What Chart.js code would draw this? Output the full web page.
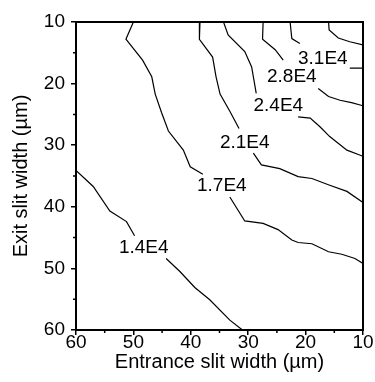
<!DOCTYPE html>
<html>
<head>
<meta charset="utf-8">
<script src="https://cdn.jsdelivr.net/npm/chart.js@4"></script>
<style>
  html, body { margin: 0; padding: 0; background: #fff; }
  #wrap { width: 375px; height: 382px; }
</style>
</head>
<body>
<div id="wrap"><canvas id="contourChart" width="375" height="382"></canvas></div>
<script>
    // contour lines, x = entrance slit width, y = exit slit width (um); null = gap for label
    const c14X = [60, 57.0, 54.1, 51.2, 49.8, null, 44.3, 41.9, 39.3, 36.7, 33.2, 31.0];
    const c14Y = [34.1, 36.7, 40.7, 42.4, 44.7, null, 48.4, 50.5, 53.1, 55.1, 58.4, 60];

    const c17X = [50.0, 51.3, 48.4, 46.8, 46.2, 45.1, 43.9, 41.3, 40.1, 37.9, null, 33.2, 30.6, 27.4, 24.8, 22.4, 21.3, 18.9, 16.0, 13.7, 11.4, 10];
    const c17Y = [10, 12.8, 16.2, 18.9, 21.7, 24.7, 27.7, 30.8, 33.5, 34.7, null, 38.4, 42.3, 42.7, 43.7, 45.4, 45.8, 46.0, 47.3, 47.7, 48.4, 49.2];

    const c21X = [38.4, 38.5, 36.2, 35.6, 34.9, 33.2, 31.6, null, 29.1, 27.7, 24.5, 21.3, 18.9, 15.8, 12.8, 10];
    const c21Y = [10, 12.8, 15.7, 18.9, 21.7, 24.5, 27.3, null, 31.3, 33.2, 33.8, 35.1, 35.4, 36.5, 37.5, 39.3];

    const c24X = [34.3, 33.5, 30.6, 29.4, 28.6, null, 21.3, 19.2, 17.5, 15.8, 12.8, 10];
    const c24Y = [10, 12.1, 14.8, 17.3, 21.6, null, 25.4, 25.6, 27.0, 28.6, 30.8, 31.8];

    const c28X = [27.4, 27.5, 25.3, 23.9, null, 17.8, 16.0, 14.0, 12.0, 10];
    const c28Y = [10, 12.8, 14.5, 16.2, null, 20.8, 22.1, 22.7, 23.1, 23.6];

    const c31X = [22.7, 22.4, 21.0, null, 12.3, 10];
    const c31Y = [10, 12.7, 13.5, null, 17.5, 17.5];

    const c34X = [16.0, 15.9, 14.3, 12.3, 10.0];
    const c34Y = [10, 11.3, 12.6, 13.2, 13.7];

    const contourLabels = ['1.4E4', '1.7E4', '2.1E4', '2.4E4', '2.8E4', '3.1E4'];
    const labelX = [48.2, 34.6, 30.6, 24.75, 22.4, 17.0];
    const labelY = [46.6, 36.6, 29.6, 23.6, 18.9, 16.0];

    const tickValues = [10, 20, 30, 40, 50, 60];
    const minorValues = [15, 25, 35, 45, 55];

    const FONT = '"Liberation Sans", Arial, Helvetica, sans-serif';

    function toPoints(xs, ys) {
        return xs.map((x, i) => ({ x: x, y: ys[i] }));
    }

    function lineSet(xs, ys) {
        return {
            data: toPoints(xs, ys),
            showLine: true,
            borderColor: '#000',
            borderWidth: 1.2,
            pointRadius: 0,
            tension: 0,
            spanGaps: false,
            fill: false
        };
    }

    const contourLabelPlugin = {
        id: 'contourLabels',
        afterDatasetsDraw(chart) {
            const { ctx, scales: { x, y } } = chart;
            ctx.save();
            ctx.font = '19px ' + FONT;
            ctx.fillStyle = '#000';
            ctx.textAlign = 'center';
            ctx.textBaseline = 'middle';
            contourLabels.forEach((txt, i) => {
                ctx.fillText(txt, x.getPixelForValue(labelX[i]), y.getPixelForValue(labelY[i]));
            });
            ctx.restore();
        }
    };

    const frameAndMinorTicks = {
        id: 'frameAndMinorTicks',
        afterDraw(chart) {
            const { ctx, chartArea: a, scales: { x, y } } = chart;
            ctx.save();
            ctx.strokeStyle = '#000';
            ctx.lineWidth = 2;
            ctx.strokeRect(a.left, a.top, a.right - a.left, a.bottom - a.top);
            ctx.lineWidth = 1.5;
            ctx.beginPath();
            minorValues.forEach(v => {
                const px = x.getPixelForValue(v);
                ctx.moveTo(px, a.bottom);
                ctx.lineTo(px, a.bottom + 3);
                const py = y.getPixelForValue(v);
                ctx.moveTo(a.left, py);
                ctx.lineTo(a.left - 3, py);
            });
            ctx.stroke();
            ctx.restore();
        }
    };

    const ctxContour = document.getElementById('contourChart').getContext('2d');
    const contourChart = new Chart(ctxContour, {
        type: 'scatter',
        data: {
            datasets: [
                lineSet(c14X, c14Y),
                lineSet(c17X, c17Y),
                lineSet(c21X, c21Y),
                lineSet(c24X, c24Y),
                lineSet(c28X, c28Y),
                lineSet(c31X, c31Y),
                lineSet(c34X, c34Y)
            ]
        },
        options: {
            responsive: false,
            animation: false,
            devicePixelRatio: 1,
            layout: { padding: { top: 22, right: 12, left: 0, bottom: 0 } },
            plugins: {
                legend: { display: false },
                tooltip: { enabled: false }
            },
            scales: {
                x: {
                    type: 'linear',
                    reverse: true,
                    min: 10,
                    max: 60,
                    afterFit: s => { s.height = 52; },
                    afterBuildTicks: s => { s.ticks = tickValues.map(v => ({ value: v })); },
                    border: { color: '#000', width: 2 },
                    grid: { drawOnChartArea: false, drawTicks: true, tickLength: 5, color: '#000', lineWidth: 1.5 },
                    ticks: { color: '#000', padding: -4, maxRotation: 0, font: { family: FONT, size: 19 } },
                    title: {
                        display: true,
                        text: 'Entrance slit width (\u00b5m)',
                        color: '#000',
                        padding: { top: 0, bottom: 8 },
                        font: { family: FONT, size: 20 }
                    }
                },
                y: {
                    type: 'linear',
                    reverse: true,
                    min: 10,
                    max: 60,
                    afterFit: s => { s.width = 76; },
                    afterBuildTicks: s => { s.ticks = tickValues.map(v => ({ value: v })); },
                    border: { color: '#000', width: 2 },
                    grid: { drawOnChartArea: false, drawTicks: true, tickLength: 5, color: '#000', lineWidth: 1.5 },
                    ticks: { color: '#000', padding: 6, font: { family: FONT, size: 19 } },
                    title: {
                        display: true,
                        text: 'Exit slit width (\u00b5m)',
                        color: '#000',
                        padding: { top: 9, bottom: 0 },
                        font: { family: FONT, size: 20 }
                    }
                }
            }
        },
        plugins: [contourLabelPlugin, frameAndMinorTicks]
    });
</script>
</body>
</html>
